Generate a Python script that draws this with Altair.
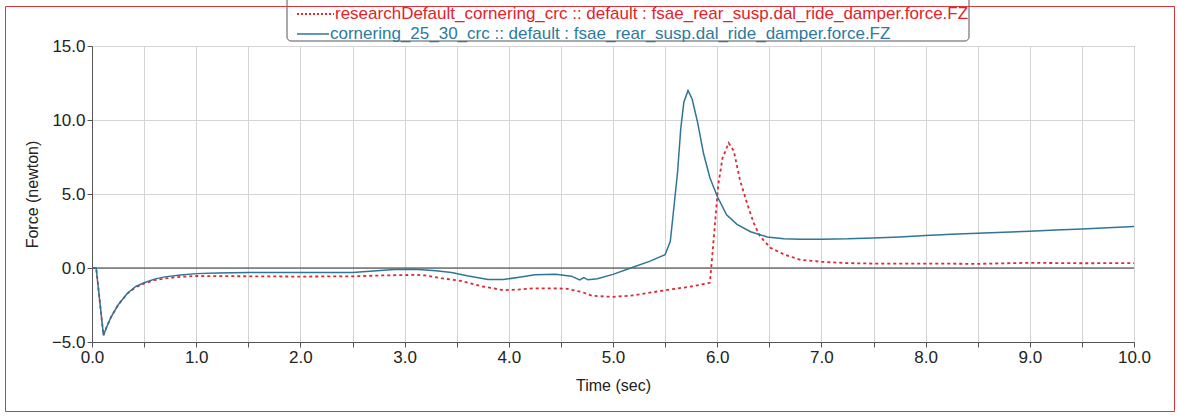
import altair as alt
import pandas as pd

# ---- data ----
red_name = "researchDefault_cornering_crc :: default : fsae_rear_susp.dal_ride_damper.force.FZ"
blue_name = "cornering_25_30_crc :: default : fsae_rear_susp.dal_ride_damper.force.FZ"

blue_t = [0, 0.04, 0.11, 0.14, 0.18, 0.25, 0.34, 0.42, 0.5, 0.6, 0.7, 0.85, 1.0, 1.2, 1.5, 2.0,
          2.5, 2.7, 2.9, 3.1, 3.3, 3.45, 3.6, 3.8, 3.95, 4.1, 4.25, 4.45, 4.6, 4.68, 4.72, 4.76,
          4.85, 5.0, 5.17, 5.35, 5.5, 5.55, 5.58, 5.62, 5.65, 5.68, 5.72, 5.76, 5.81, 5.87, 5.93,
          6.0, 6.09, 6.19, 6.32, 6.48, 6.64, 6.8, 7.0, 7.25, 7.5, 7.75, 8.0, 8.25, 8.5, 8.75,
          9.0, 9.25, 9.5, 9.75, 10.0]
blue_f = [0, 0, -4.55, -4.0, -3.35, -2.5, -1.7, -1.25, -1.0, -0.75, -0.6, -0.47, -0.38, -0.33,
          -0.3, -0.3, -0.3, -0.2, -0.1, -0.08, -0.18, -0.3, -0.52, -0.78, -0.78, -0.62, -0.45,
          -0.42, -0.55, -0.8, -0.65, -0.8, -0.72, -0.43, 0.0, 0.45, 0.9, 1.8, 3.8, 6.5, 9.4,
          11.2, 12.0, 11.4, 9.9, 7.7, 6.1, 4.85, 3.6, 2.95, 2.45, 2.1, 1.97, 1.95, 1.95, 1.97,
          2.03, 2.1, 2.2, 2.28, 2.35, 2.42, 2.48, 2.56, 2.64, 2.72, 2.8]

red_t = [0, 0.04, 0.11, 0.14, 0.18, 0.25, 0.34, 0.42, 0.5, 0.6, 0.7, 0.85, 1.0, 1.5, 2.0, 2.5,
         2.8, 3.0, 3.1, 3.2, 3.35, 3.55, 3.75, 3.95, 4.1, 4.25, 4.55, 4.7, 4.8, 5.0, 5.2, 5.5,
         5.75, 5.9, 5.93, 5.95, 5.98, 6.01, 6.05, 6.11, 6.16, 6.22, 6.29, 6.35, 6.41, 6.51,
         6.64, 6.8, 7.0, 7.25, 7.5, 8.0, 8.5, 9.0, 9.5, 10.0]
red_f = [0, 0, -4.55, -4.0, -3.35, -2.5, -1.72, -1.3, -1.05, -0.82, -0.7, -0.6, -0.54, -0.56,
         -0.58, -0.56, -0.5, -0.48, -0.46, -0.5, -0.69, -0.88, -1.25, -1.5, -1.45, -1.37,
         -1.39, -1.62, -1.88, -1.95, -1.85, -1.5, -1.25, -1.05, -0.99, 0.6, 3.1, 5.6, 7.4,
         8.45, 7.9, 5.9, 4.3, 3.05, 2.15, 1.37, 0.92, 0.55, 0.42, 0.33, 0.3, 0.3, 0.28, 0.35,
         0.32, 0.33]

x_grid = [i * 0.5 for i in range(21)]
y_grid = [-5, -2.5, 0, 2.5, 5, 7.5, 10, 12.5, 15]

RED = "#d92b35"
BLUE = "#2e7596"
RED_TXT = "#e3222b"
BLUE_TXT = "#2c7aa0"
FONT = "Liberation Sans"

blue_df = pd.DataFrame({"t": blue_t, "f": blue_f})
red_df = pd.DataFrame({"t": red_t, "f": red_f})

# plot area offsets (absolute pixel positions of plot origin)
PL, PT = 92, 46

xenc = alt.X("t:Q", scale=alt.Scale(domain=[0, 10], nice=False),
             axis=alt.Axis(values=x_grid, title="Time (sec)", labelFlush=False,
                           labelExpr="datum.value % 1 == 0 ? format(datum.value, '.1f') : ''",
                           titlePadding=12))
yenc = alt.Y("f:Q", scale=alt.Scale(domain=[-5, 15], nice=False),
             axis=alt.Axis(values=y_grid, title="Force (newton)", labelFlush=False,
                           labelExpr="datum.value % 5 == 0 ? format(datum.value, '.1f') : ''",
                           titlePadding=11))

red_line = alt.Chart(red_df).mark_line(color=RED, strokeWidth=1.8, strokeDash=[3, 3]).encode(
    x=xenc, y=yenc)
blue_line = alt.Chart(blue_df).mark_line(color=BLUE, strokeWidth=1.5).encode(
    x=alt.X("t:Q"), y=alt.Y("f:Q"))

zero = alt.Chart(pd.DataFrame({"f": [0]})).mark_rule(color="#333333", strokeWidth=1).encode(
    y="f:Q")

# legend box
leg_box = alt.Chart(pd.DataFrame({"a": [0]})).mark_rect(
    fill="white", stroke="#555555", strokeWidth=1, cornerRadius=4).encode(
    x=alt.value(287 - PL), x2=alt.value(969 - PL), y=alt.value(-50), y2=alt.value(41 - PT))

leg_red_rule = alt.Chart(pd.DataFrame({"a": [0]})).mark_rule(
    color=RED, strokeWidth=1.8, strokeDash=[2, 2]).encode(
    x=alt.value(297 - PL), x2=alt.value(334 - PL), y=alt.value(14 - PT))
leg_blue_rule = alt.Chart(pd.DataFrame({"a": [0]})).mark_rule(
    color=BLUE, strokeWidth=1.5).encode(
    x=alt.value(297 - PL), x2=alt.value(329 - PL), y=alt.value(34 - PT))

leg_red_txt = alt.Chart(pd.DataFrame({"label": [red_name]})).mark_text(
    align="left", baseline="middle", fontSize=17, font=FONT, color=RED_TXT).encode(
    x=alt.value(335 - PL), y=alt.value(14 - PT), text="label:N")
leg_blue_txt = alt.Chart(pd.DataFrame({"label": [blue_name]})).mark_text(
    align="left", baseline="middle", fontSize=17, font=FONT, color=BLUE_TXT).encode(
    x=alt.value(330 - PL), y=alt.value(34 - PT), text="label:N")

border = alt.Chart(pd.DataFrame({"a": [0]})).mark_rect(
    fillOpacity=0, stroke="#d9363e", strokeWidth=1).encode(
    x=alt.value(5.5 - PL), x2=alt.value(1174.5 - PL), y=alt.value(6.5 - PT), y2=alt.value(411.5 - PT))

chart = alt.layer(
    zero, red_line, blue_line, leg_box, leg_red_rule, leg_blue_rule, leg_red_txt, leg_blue_txt, border
).properties(
    width=1134 - PL, height=342 - PT,
    autosize=alt.AutoSizeParams(type="none"),
    padding={"left": PL, "top": PT, "right": 1178 - 1134, "bottom": 416 - 342},
    background="white",
).configure_view(
    stroke="#666666", strokeWidth=1
).configure_axis(
    gridColor="#d4d4d4", gridWidth=1, domainColor="#555555", tickColor="#555555",
    labelFont=FONT, labelFontSize=17, labelColor="#222222",
    titleFont=FONT, titleFontSize=16, titleFontWeight="normal", titleColor="#222222",
    tickSize=5, labelPadding=2
)

chart.save("out.html", embed_options={"renderer": "svg", "actions": False})
